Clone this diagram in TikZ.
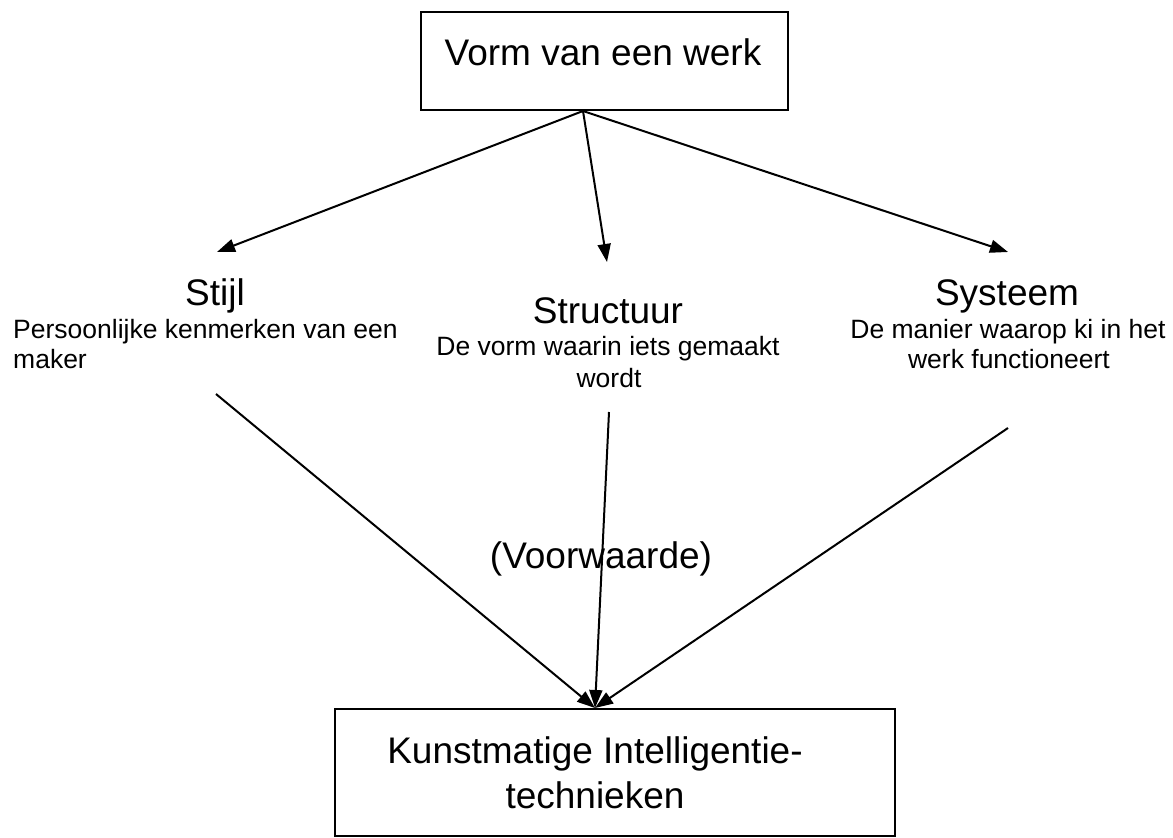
\documentclass[tikz,border=0pt]{standalone}
\usepackage{fontspec}
\setmainfont{Liberation Sans}
\usetikzlibrary{arrows.meta}
\begin{document}
\begin{tikzpicture}[x=1pt,y=-1pt,
  title/.style={font=\fontsize{37}{42}\selectfont, inner sep=0pt, anchor=base},
  sub/.style={font=\fontsize{26.5}{30}\selectfont, inner sep=0pt, anchor=base},
  frame/.style={draw, line width=2pt, inner sep=0pt},
  link/.style={line width=2pt},
  arr/.style={link, -{Triangle[length=18pt,width=13pt]}}]
\useasboundingbox (0,0) rectangle (1173,838);
\fill[white] (0,0) rectangle (1173,838);

% top box
\node[frame, minimum width=367pt, minimum height=98pt] (vorm) at (604.5,61) {};
\node[title] (vormtext) at (603,65) {Vorm van een werk};

% three aspects
\node[title] (stijl) at (215,305) {Stijl};
\node[sub, anchor=base west] (stijlA) at (13,338) {Persoonlijke kenmerken van een};
\node[sub, anchor=base west] (stijlB) at (13,368) {maker};

\node[title] (structuur) at (608,323) {Structuur};
\node[sub] (structuurA) at (608,355) {De vorm waarin iets gemaakt};
\node[sub] (structuurB) at (609,387) {wordt};

\node[title] (systeem) at (1007,305) {Systeem};
\node[sub] (systeemA) at (1008,338) {De manier waarop ki in het};
\node[sub] (systeemB) at (1009,368) {werk functioneert};

\node[title] (voorwaarde) at (601,568) {(Voorwaarde)};

% bottom box
\node[frame, minimum width=560pt, minimum height=127pt] (kunst) at (615,772.5) {};
\node[title] (kunstA) at (595,763) {Kunstmatige Intelligentie-};
\node[title] (kunstB) at (595,808) {technieken};

% connector ends
\coordinate (apex) at (583,111);
\coordinate (stijltip) at (217,252);
\coordinate (structuurtip) at (607,262);
\coordinate (systeemtip) at (1008,252);
\coordinate (stijlfoot) at (216,394);
\coordinate (structuurfoot) at (609,412);
\coordinate (systeemfoot) at (1008,428);
\coordinate (meet) at (kunst.north -| kunstA);

\draw[arr] (apex) -- (stijltip);
\draw[arr] (apex) -- (structuurtip);
\draw[arr] (apex) -- (systeemtip);

\draw[arr] (stijlfoot) -- (meet);
\draw[arr] (structuurfoot) -- (meet);
\draw[arr] (systeemfoot) -- (meet);
\end{tikzpicture}
\end{document}
